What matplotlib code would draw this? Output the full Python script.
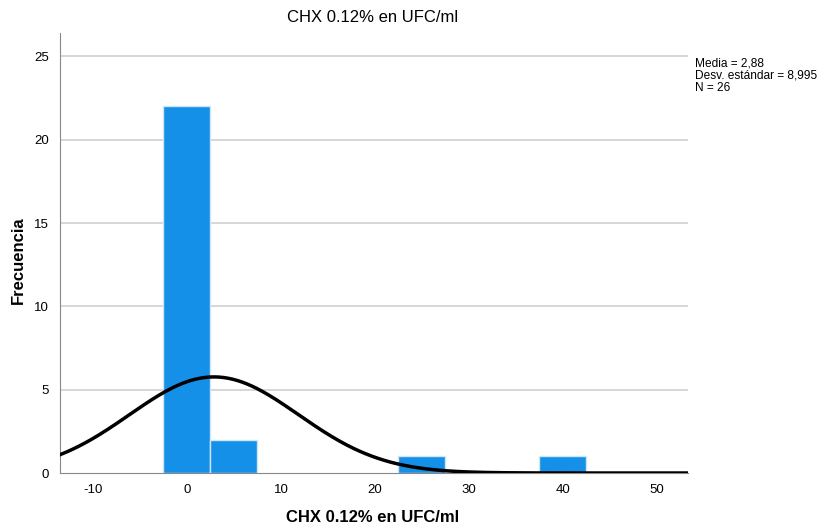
import numpy as np
import matplotlib.pyplot as plt

plt.rcParams['font.family'] = ['Liberation Sans', 'DejaVu Sans']
plt.rcParams['axes.unicode_minus'] = False

# Histograma de frecuencias (intervalos de ancho 5)
bin_centers = [0, 5, 25, 40]
frecuencias = [22, 2, 1, 1]
ancho = 5
media = 2.88
desv = 8.995
n = 26

fig = plt.figure(figsize=(8.2, 5.29), dpi=100)
ax = fig.add_axes([60/820, (529-473)/529, (688-60)/820, (473-33)/529])

ax.set_xlim(-13.5, 53.3)
ax.set_ylim(0, 26.4)

# lineas de rejilla
for y in [5, 10, 15, 20, 25]:
    ax.axhline(y, color='#d0d0d0', lw=1.2, zorder=0)

ax.bar(bin_centers, frecuencias, width=ancho, color='#1590e8',
       edgecolor='#cfe6f8', linewidth=1.0, zorder=2)

# curva normal escalada
xs = np.linspace(-13.5, 53.3, 400)
ys = n * ancho / (desv * np.sqrt(2 * np.pi)) * np.exp(-0.5 * ((xs - media) / desv) ** 2)
ax.plot(xs, ys, color='black', lw=2.5, zorder=3)

ax.set_xticks([-10, 0, 10, 20, 30, 40, 50])
ax.set_yticks([0, 5, 10, 15, 20, 25])
ax.tick_params(length=0, labelsize=9.5, pad=8)
for s in ['top', 'right']:
    ax.spines[s].set_visible(False)
ax.spines['left'].set_color('#888888')
ax.spines['bottom'].set_color('#888888')

fig.text(373/820, 1 - 18/529, 'CHX 0.12% en UFC/ml', fontsize=12,
         ha='center', va='center')
fig.text(373/820, 1 - 518/529, 'CHX 0.12% en UFC/ml', fontsize=12,
         fontweight='bold', ha='center', va='center')
fig.text(18/820, 1 - 260/529, 'Frecuencia', fontsize=12, fontweight='bold',
         rotation=90, ha='center', va='center')

fig.text(695/820, 1 - 58/529, 'Media = 2,88\nDesv. estándar = 8,995\nN = 26',
         fontsize=8.6, va='top', ha='left', linespacing=1.0)

fig.savefig('out.png', dpi=100)
